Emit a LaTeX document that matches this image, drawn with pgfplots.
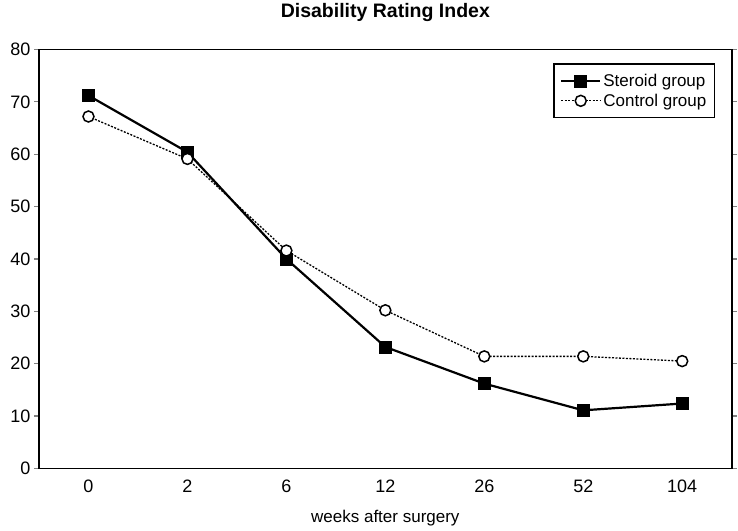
\documentclass[border=0pt]{standalone}
\usepackage{pgfplots}
\pgfplotsset{compat=1.18}
\usepackage{fontspec}
\setmainfont{Liberation Sans}
\begin{document}
\begin{tikzpicture}
\begin{axis}[
  name=ax,
  scale only axis,
  width=692.7pt, height=419pt,
  xmin=-0.5, xmax=6.5,
  ymin=0, ymax=80,
  ytick={0,10,...,80},
  xtick={0,1,2,3,4,5,6},
  xticklabels={0,2,6,12,26,52,104},
  tick align=outside,
  major tick length=5pt,
  xtick style={draw=none},
  ytick style={line width=1.3pt},
  axis line style={line width=1.8pt},
  /pgf/number format/assume math mode=true,
  ticklabel style={font=\fontsize{18}{21}\selectfont},
  xticklabel style={yshift=-3pt},
  title={\textbf{Disability Rating Index}},
  title style={font=\fontsize{19.5}{22}\selectfont, at={(axis description cs:0.5,1)}, anchor=center, yshift=31pt},
  xlabel={weeks after surgery},
  xlabel style={font=\fontsize{17}{20}\selectfont, at={(axis description cs:0.5,0)}, anchor=center, yshift=-50pt},
  legend style={at={(axis description cs:1,1)}, anchor=north east, xshift=-16.7pt, yshift=-14pt,
    font=\fontsize{17}{20}\selectfont, draw=black, line width=1.3pt, inner xsep=6pt, inner ysep=8pt,
    row sep=2pt, cells={anchor=west}},
  legend image code/.code={\draw[mark repeat=2,mark phase=2,#1] plot coordinates {(0pt,0pt) (19.5pt,0pt) (39pt,0pt)};},
]
\addplot[black, line width=2.2pt, mark=square*, mark size=6pt, mark options={solid, fill=black, line width=0.5pt}]
  coordinates {(0,71.2) (1,60.4) (2,40.0) (3,23.2) (4,16.2) (5,11.1) (6,12.4)};
\addlegendentry{Steroid group}
\addplot[black, line width=1.3pt, dash pattern=on 2pt off 1.5pt, mark=*, mark size=5.5pt, mark options={solid, fill=white, line width=1.5pt}]
  coordinates {(0,67.2) (1,59.1) (2,41.6) (3,30.2) (4,21.4) (5,21.4) (6,20.5)};
\addlegendentry{Control group}
\end{axis}
\path (ax.south west) ++(-39pt,-62pt) rectangle ++(738pt,526pt);
\end{tikzpicture}
\end{document}
